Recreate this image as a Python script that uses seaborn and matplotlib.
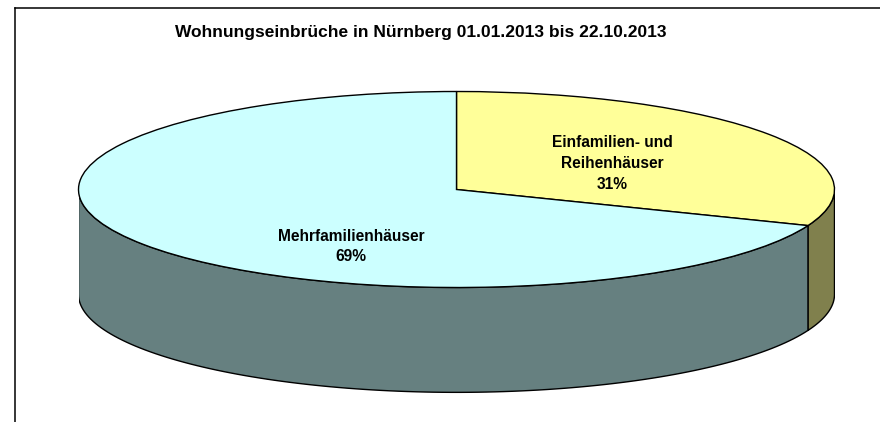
import numpy as np
import matplotlib
matplotlib.use("Agg")
import matplotlib.pyplot as plt
import seaborn as sns

# Daten
TITLE = "Wohnungseinbrüche in Nürnberg 01.01.2013 bis 22.10.2013"
categories = ["Einfamilien- und\nReihenhäuser", "Mehrfamilienhäuser"]
shares = [31, 69]
top_colors = ["#FFFF99", "#CCFFFF"]
side_colors = ["#80804D", "#668080"]

W, H = 880, 422
CX, CY = 456.5, 189.5   # Mitte der Ellipse in Pixeln
RX, RY = 378.0, 98.0
DEPTH = 1.07            # Höhe der Seitenwand in Radien

sns.set_theme(style="white")
plt.rcParams["font.family"] = ["Liberation Sans", "DejaVu Sans"]

fig = plt.figure(figsize=(W / 100, H / 100), dpi=100)

# Rahmen: nur links und oben sichtbar
frame = fig.add_axes([14.5 / W, 0, 1 - 14.5 / W, 1 - 7.5 / H])
frame.set_xticks([])
frame.set_yticks([])
sns.despine(ax=frame, right=True, bottom=True, top=False, left=False)
for side in ["left", "top"]:
    frame.spines[side].set_color("black")
    frame.spines[side].set_linewidth(1.1)

# Achse so legen, dass der Einheitskreis zur Ellipse wird
ax = fig.add_axes([(CX - RX) / W, 0, 2 * RX / W, (H - 7.5) / H])
ax.patch.set_alpha(0)


def draw_wall(start, end, color):
    t = np.radians(np.linspace(start, end, 120))
    x = np.cos(t)
    y = np.sin(t)
    ax.fill(np.r_[x, x[::-1]], np.r_[y, y[::-1] - DEPTH],
            facecolor=color, edgecolor="black", linewidth=1.0, zorder=1)


# Seitenwand aus den Anteilen
split = 90 - shares[0] / sum(shares) * 360
draw_wall(split, 0, side_colors[0])
draw_wall(180, 360 + split, side_colors[1])

wedges, _ = ax.pie(shares, colors=top_colors, startangle=90, counterclock=False,
                   radius=1, center=(0, 0), frame=True,
                   wedgeprops={"edgecolor": "black", "linewidth": 1.0, "zorder": 2})
ax.set_aspect("auto")
ax.set_xlim(-1, 1)
ax.set_ylim((CY - H) / RY, (CY - 7.5) / RY)
ax.set_axis_off()

# Beschriftung
label_pos = [((612.5 - CX) / RX, (CY - 163.5) / RY), ((351 - CX) / RX, (CY - 246.5) / RY)]
for name, share, pos in zip(categories, shares, label_pos):
    ax.text(pos[0], pos[1], f"{name}\n{share}%", ha="center", va="center",
            fontsize=11.2, fontweight="bold", color="black", linespacing=1.47, zorder=3)

fig.text(420.5 / W, 1 - 32 / H, TITLE, ha="center", va="center",
         fontsize=12.55, fontweight="bold", color="black")

fig.savefig("out.png", dpi=100)
